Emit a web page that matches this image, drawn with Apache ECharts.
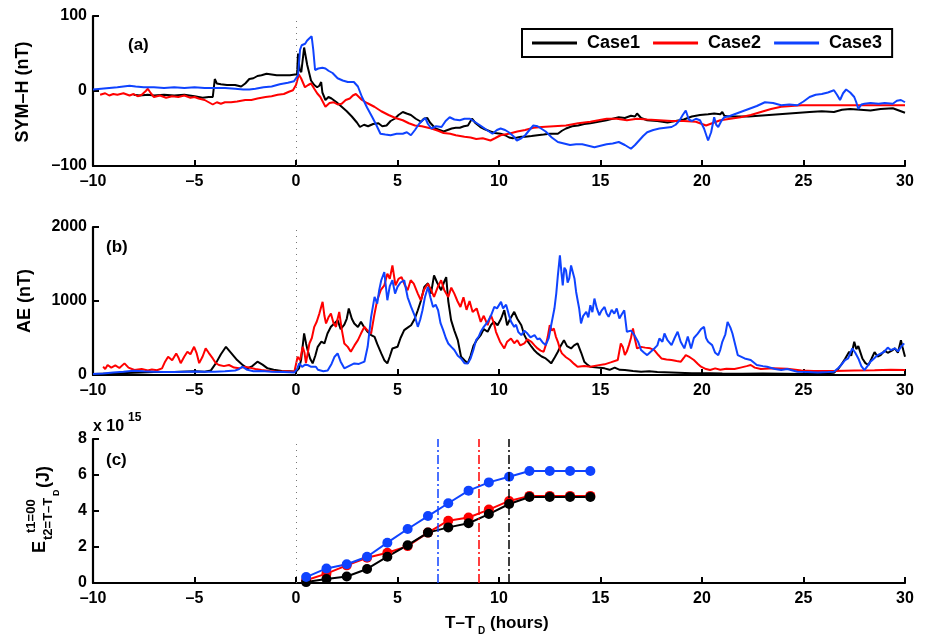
<!DOCTYPE html>
<html>
<head>
<meta charset="utf-8">
<title>SYM-H, AE and energy</title>
<script src="https://cdn.jsdelivr.net/npm/echarts@6/dist/echarts.min.js"></script>
<style>
  html, body { margin: 0; padding: 0; background: #fff; }
  #chart { width: 925px; height: 638px; }
</style>
</head>
<body>
<div id="chart"></div>
<script>
// ---- SYM-H (nT), [hours from T_D, value] ----
const symhCase1 = [[-8.0,-5],[-7.7,-6],[-7.3,-5],[-7.0,-6],[-6.5,-5],[-6.0,-6],[-5.5,-5],[-5.0,-7],[-4.6,-9],[-4.3,-8],[-4.1,-8],[-4.0,16],[-3.9,10],[-3.7,9],[-3.4,8],[-3.0,8],[-2.7,6],[-2.5,10],[-2.3,16],[-2.1,17],[-1.9,20],[-1.7,21],[-1.45,23],[-1.2,22],[-0.95,21],[-0.6,21],[-0.3,21],[-0.05,22],[0.05,22],[0.1,50],[0.18,28],[0.26,25],[0.4,58],[0.55,35],[0.74,14],[0.9,8],[1.04,5],[1.15,7],[1.24,12],[1.3,-2],[1.45,-12],[1.6,-8],[1.75,-10],[2.0,-15],[2.25,-21],[2.5,-27],[2.75,-34],[3.0,-42],[3.15,-48],[3.35,-45],[3.55,-47],[3.8,-44],[4.06,-43],[4.25,-47],[4.46,-46],[4.66,-40],[4.86,-37],[5.05,-32],[5.26,-28],[5.45,-30],[5.66,-32],[5.9,-37],[6.16,-41],[6.3,-37],[6.47,-36],[6.6,-42],[6.87,-50],[7.07,-52],[7.27,-54],[7.47,-52],[7.67,-50],[7.87,-49],[8.07,-49],[8.27,-47],[8.47,-46],[8.6,-40],[8.67,-37],[8.85,-43],[9.08,-48],[9.3,-51],[9.58,-54],[9.8,-56],[10.08,-57],[10.3,-59],[10.5,-62],[10.68,-63],[10.9,-62],[11.1,-61],[11.29,-61],[11.6,-60],[11.89,-59],[12.2,-58],[12.5,-57],[12.9,-57],[13.1,-53],[13.3,-50],[13.6,-47],[13.9,-46],[14.2,-44],[14.5,-43],[14.9,-41],[15.3,-39],[15.6,-37],[15.9,-35],[16.2,-36],[16.5,-33],[16.7,-34],[16.8,-30],[17.0,-36],[17.3,-39],[17.8,-40],[18.3,-42],[18.7,-40],[19.1,-38],[19.5,-34],[19.9,-32],[20.3,-31],[20.6,-30],[20.9,-31],[21.0,-28],[21.1,-33],[21.3,-34],[21.8,-34],[22.3,-34],[22.8,-33],[23.3,-32],[23.8,-31],[24.3,-30],[24.8,-29],[25.3,-28],[25.9,-27],[26.5,-28],[26.9,-25],[27.3,-24],[27.8,-25],[28.3,-26],[28.8,-24],[29.4,-23],[29.7,-26],[30,-29]];

const symhCase2 = [[-9.65,-5],[-9.4,-3],[-9.2,-6],[-9.0,-4],[-8.8,-5],[-8.5,-3],[-8.2,-6],[-8.0,-4],[-7.8,-7],[-7.6,-5],[-7.4,0],[-7.3,3],[-7.15,-3],[-7.0,-8],[-6.7,-6],[-6.4,-9],[-6.1,-7],[-5.8,-8],[-5.5,-6],[-5.2,-9],[-5.0,-8],[-4.8,-10],[-4.5,-12],[-4.3,-15],[-4.1,-18],[-3.9,-15],[-3.7,-17],[-3.5,-15],[-3.2,-15],[-2.9,-14],[-2.5,-12],[-2.2,-12],[-1.9,-10],[-1.5,-8],[-1.2,-7],[-0.9,-5],[-0.6,-4],[-0.35,-1],[-0.15,1],[0.0,8],[0.14,22],[0.25,17],[0.44,5],[0.6,8],[0.74,10],[0.9,3],[1.04,-3],[1.2,-8],[1.45,-21],[1.65,-16],[1.85,-15],[2.05,-18],[2.25,-17],[2.45,-12],[2.65,-10],[2.8,-6],[2.95,-4],[3.1,-8],[3.25,-12],[3.5,-16],[3.86,-21],[4.2,-27],[4.56,-32],[4.9,-36],[5.26,-39],[5.56,-43],[5.86,-46],[6.2,-47],[6.67,-50],[7.0,-53],[7.27,-56],[7.6,-57],[7.87,-59],[8.3,-61],[8.6,-62],[8.88,-64],[9.2,-63],[9.58,-66],[9.8,-63],[10.08,-59],[10.48,-57],[10.9,-54],[11.29,-52],[11.7,-49],[12.1,-48],[12.7,-47],[13.3,-46],[13.9,-43],[14.5,-41],[14.9,-39],[15.3,-37],[15.8,-37],[16.3,-39],[16.8,-37],[17.3,-38],[17.9,-39],[18.5,-40],[19.1,-40],[19.7,-41],[20.0,-44],[20.2,-46],[20.5,-43],[20.9,-39],[21.4,-37],[21.9,-35],[22.4,-32],[22.9,-28],[23.4,-24],[23.9,-21],[24.4,-20],[24.9,-19],[26,-19],[27,-19],[28,-19],[29,-19],[30,-19]];

const symhCase3 = [[-10,2],[-9.6,3],[-9.2,4],[-8.8,5],[-8.5,6],[-8.2,7],[-7.9,6],[-7.5,5],[-7.0,5],[-6.5,4],[-6.0,5],[-5.5,4],[-5.0,5],[-4.5,4],[-4.0,4],[-3.5,4],[-3.0,3],[-2.6,2],[-2.3,2],[-2.0,3],[-1.6,5],[-1.2,6],[-0.8,9],[-0.4,11],[-0.1,13],[0.1,21],[0.2,55],[0.28,61],[0.45,63],[0.54,67],[0.65,70],[0.77,73],[0.85,55],[0.94,28],[1.1,30],[1.3,31],[1.45,30],[1.6,27],[1.8,24],[2.05,17],[2.3,14],[2.55,12],[2.85,12],[3.05,6],[3.25,-8],[3.5,-22],[3.76,-35],[3.95,-45],[4.16,-57],[4.4,-58],[4.66,-59],[4.96,-57],[5.26,-57],[5.46,-55],[5.66,-59],[5.86,-52],[6.06,-44],[6.2,-40],[6.37,-36],[6.5,-44],[6.67,-50],[6.9,-47],[7.17,-48],[7.37,-40],[7.57,-35],[7.8,-38],[8.07,-39],[8.3,-37],[8.57,-37],[8.8,-41],[9.08,-46],[9.4,-52],[9.68,-57],[9.9,-52],[10.08,-50],[10.3,-52],[10.48,-55],[10.7,-60],[10.88,-66],[11.1,-63],[11.29,-59],[11.5,-52],[11.69,-46],[11.9,-47],[12.3,-54],[12.6,-62],[12.9,-68],[13.2,-70],[13.5,-72],[13.8,-71],[14.1,-71],[14.4,-73],[14.7,-75],[15.0,-73],[15.3,-71],[15.6,-70],[15.9,-68],[16.2,-72],[16.5,-77],[16.7,-72],[16.9,-66],[17.1,-60],[17.3,-55],[17.6,-52],[17.9,-50],[18.2,-49],[18.5,-48],[18.7,-45],[18.9,-39],[19.05,-32],[19.2,-26],[19.35,-38],[19.5,-40],[19.7,-37],[19.9,-39],[20.1,-50],[20.3,-66],[20.45,-55],[20.6,-35],[20.7,-45],[20.8,-48],[20.95,-40],[21.1,-35],[21.4,-33],[21.7,-30],[22.0,-27],[22.3,-24],[22.7,-20],[23.1,-15],[23.5,-16],[23.9,-19],[24.3,-18],[24.7,-19],[25.0,-14],[25.3,-8],[25.6,-5],[25.9,-4],[26.2,-2],[26.5,1],[26.65,-5],[26.8,-12],[26.95,-3],[27.1,2],[27.3,-2],[27.5,-8],[27.6,-15],[27.7,-24],[27.85,-18],[28.0,-17],[28.3,-16],[28.7,-17],[29.0,-16],[29.4,-17],[29.6,-13],[29.8,-12],[30,-15]];

// ---- AE (nT), [hours from T_D, value] ----
const aeCase1 = [[-10,15],[-9,20],[-8,30],[-7,40],[-6,40],[-5,50],[-4.5,45],[-4.2,60],[-3.95,157],[-3.7,280],[-3.45,381],[-3.2,300],[-2.9,202],[-2.6,130],[-2.4,90],[-2.15,120],[-1.9,180],[-1.65,140],[-1.4,90],[-1.1,70],[-0.7,55],[-0.3,50],[0.0,45],[0.15,90],[0.25,202],[0.4,561],[0.5,420],[0.57,337],[0.7,220],[0.82,157],[0.95,260],[1.07,381],[1.25,450],[1.4,426],[1.55,560],[1.72,651],[1.9,700],[2.05,741],[2.2,620],[2.38,680],[2.5,760],[2.6,898],[2.75,760],[2.87,696],[3.05,650],[3.2,718],[3.35,650],[3.53,584],[3.7,540],[3.87,516],[4.0,420],[4.2,292],[4.35,200],[4.5,157],[4.62,250],[4.75,359],[5.0,381],[5.15,500],[5.33,606],[5.5,640],[5.67,673],[5.85,760],[6.0,875],[6.15,1000],[6.32,1190],[6.5,1240],[6.65,1100],[6.8,1347],[6.95,1250],[7.15,1145],[7.3,1260],[7.4,1324],[7.5,1000],[7.64,741],[7.8,600],[7.97,471],[8.13,247],[8.3,200],[8.46,157],[8.6,260],[8.75,400],[8.9,470],[9.1,539],[9.25,620],[9.44,584],[9.6,673],[9.75,720],[9.93,673],[10.1,760],[10.26,876],[10.4,673],[10.55,760],[10.75,853],[10.9,760],[11.1,673],[11.25,539],[11.4,460],[11.6,382],[11.75,330],[11.9,292],[12.1,250],[12.3,224],[12.45,190],[12.57,157],[12.75,240],[12.9,314],[13.05,400],[13.2,471],[13.35,390],[13.55,359],[13.7,400],[13.87,427],[14.05,300],[14.2,180],[14.35,140],[14.5,112],[14.85,100],[15.2,90],[15.45,70],[15.7,100],[15.95,70],[16.2,67],[16.6,55],[17,45],[17.4,50],[17.8,42],[18.5,35],[19.5,22],[20.4,22],[21,20],[22,18],[23,20],[24,18],[25,15],[26,20],[26.5,30],[26.7,80],[26.85,135],[27.05,220],[27.25,314],[27.35,260],[27.5,449],[27.6,350],[27.7,390],[27.9,224],[28.05,160],[28.2,135],[28.35,220],[28.5,310],[28.65,250],[28.8,269],[29.0,330],[29.15,300],[29.35,330],[29.5,359],[29.65,300],[29.8,471],[29.9,350],[30,247]];

const aeCase2 = [[-9.5,112],[-9.4,80],[-9.28,135],[-9.1,100],[-8.9,130],[-8.7,95],[-8.45,157],[-8.25,100],[-7.96,67],[-7.6,80],[-7.3,60],[-7.1,75],[-6.85,65],[-6.6,90],[-6.45,180],[-6.3,247],[-6.1,200],[-5.9,292],[-5.8,240],[-5.68,160],[-5.5,250],[-5.35,314],[-5.2,280],[-5.02,381],[-4.9,300],[-4.77,160],[-4.6,250],[-4.45,359],[-4.3,300],[-4.1,224],[-3.95,160],[-3.8,135],[-3.55,120],[-3.3,135],[-3.05,100],[-2.8,90],[-2.55,110],[-2.3,100],[-2.0,80],[-1.7,67],[-1.3,55],[-0.9,45],[-0.5,50],[-0.08,45],[0.08,247],[0.2,200],[0.33,381],[0.42,300],[0.49,160],[0.58,300],[0.66,426],[0.78,500],[0.9,651],[1.02,720],[1.15,830],[1.31,988],[1.4,800],[1.48,696],[1.6,780],[1.72,830],[1.85,700],[1.97,651],[2.05,760],[2.13,853],[2.25,620],[2.38,426],[2.55,380],[2.7,314],[2.88,400],[3.05,471],[3.2,560],[3.37,651],[3.53,600],[3.7,561],[3.85,800],[4.0,1010],[4.18,1150],[4.35,1212],[4.5,1369],[4.62,1300],[4.75,1481],[4.9,1212],[5.05,1300],[5.2,1324],[5.35,1220],[5.5,1145],[5.65,1280],[5.8,1234],[6.0,1100],[6.15,1010],[6.3,1150],[6.5,1234],[6.65,1150],[6.8,1055],[7.0,1200],[7.15,1280],[7.3,1150],[7.5,1055],[7.65,1180],[7.8,1100],[7.95,1000],[8.1,920],[8.25,1050],[8.4,880],[8.55,1000],[8.7,850],[8.9,900],[9.1,718],[9.25,800],[9.44,673],[9.6,808],[9.75,700],[9.85,584],[10.05,450],[10.26,359],[10.4,450],[10.59,494],[10.75,430],[10.9,471],[11.05,400],[11.25,427],[11.4,480],[11.6,449],[11.75,400],[11.9,359],[12.05,330],[12.2,314],[12.3,400],[12.4,516],[12.5,673],[12.6,600],[12.7,628],[12.8,520],[12.9,449],[13.0,350],[13.1,292],[13.3,240],[13.5,202],[13.7,150],[13.87,112],[14.2,120],[14.5,112],[14.85,130],[15.2,144],[15.5,170],[15.85,202],[16.0,427],[16.1,380],[16.2,269],[16.3,320],[16.4,404],[16.5,500],[16.6,628],[16.7,480],[16.8,359],[17.0,380],[17.2,370],[17.45,360],[17.65,337],[17.85,270],[18.0,224],[18.25,210],[18.5,202],[18.75,190],[18.96,180],[19.1,230],[19.2,269],[19.4,240],[19.6,202],[19.8,150],[19.95,112],[20.2,80],[20.4,67],[20.65,90],[20.9,70],[21.2,85],[21.6,80],[21.9,100],[22.2,120],[22.4,135],[22.6,100],[22.9,80],[23.5,90],[24.2,85],[24.9,60],[25.5,55],[26.5,54],[27.5,60],[28.5,65],[29.3,70],[30,67]];

const aeCase3 = [[-10,13],[-9.5,20],[-9,35],[-8.5,45],[-8,58],[-7.5,50],[-7,45],[-6.5,40],[-6,42],[-5.5,45],[-5,48],[-4.5,45],[-4,45],[-3.5,50],[-3,60],[-2.8,80],[-2.65,112],[-2.4,70],[-2.1,50],[-1.7,55],[-1.2,45],[-0.6,40],[-0.08,35],[0.05,80],[0.16,157],[0.3,110],[0.45,140],[0.57,135],[0.75,110],[0.98,112],[1.08,70],[1.15,45],[1.35,50],[1.56,60],[1.75,150],[1.9,247],[2.05,292],[2.2,180],[2.38,90],[2.6,120],[2.87,157],[3.1,150],[3.37,180],[3.53,381],[3.7,786],[3.87,1055],[4.0,965],[4.1,1150],[4.2,1280],[4.35,1392],[4.5,1010],[4.62,1200],[4.75,1280],[4.88,1100],[5.0,1190],[5.15,1250],[5.33,1280],[5.5,1050],[5.67,920],[5.85,800],[6.0,651],[6.12,750],[6.23,875],[6.35,1050],[6.5,1190],[6.62,1050],[6.75,920],[6.88,950],[7.0,875],[7.12,700],[7.25,606],[7.38,500],[7.5,426],[7.65,380],[7.8,337],[7.97,260],[8.13,224],[8.3,160],[8.46,157],[8.6,224],[8.75,350],[8.87,471],[9.0,520],[9.1,584],[9.25,650],[9.44,718],[9.6,800],[9.77,920],[9.9,900],[10.1,988],[10.2,900],[10.35,950],[10.5,800],[10.6,718],[10.75,650],[10.84,680],[10.95,580],[11.1,539],[11.25,600],[11.4,560],[11.55,510],[11.75,539],[11.9,480],[12.0,494],[12.15,440],[12.3,404],[12.45,500],[12.57,673],[12.73,898],[12.82,1100],[12.9,1347],[13.0,1616],[13.07,1400],[13.14,1212],[13.22,1450],[13.3,1414],[13.38,1250],[13.46,1302],[13.55,1480],[13.63,1482],[13.72,1300],[13.8,1122],[13.88,1000],[13.95,898],[14.04,696],[14.15,800],[14.3,853],[14.4,780],[14.5,943],[14.6,850],[14.7,1033],[14.82,900],[14.94,808],[15.05,870],[15.2,920],[15.3,830],[15.4,786],[15.55,880],[15.68,830],[15.8,900],[15.93,763],[16.05,820],[16.17,875],[16.3,584],[16.5,600],[16.67,539],[16.85,450],[17.0,337],[17.15,300],[17.3,269],[17.5,320],[17.65,359],[17.8,400],[17.9,494],[18.05,450],[18.15,561],[18.3,470],[18.5,404],[18.65,500],[18.8,584],[18.95,450],[19.13,360],[19.3,520],[19.46,359],[19.6,500],[19.79,560],[19.95,620],[20.1,651],[20.2,500],[20.3,449],[20.5,404],[20.65,300],[20.8,269],[20.9,340],[21.0,449],[21.15,550],[21.26,718],[21.4,640],[21.5,561],[21.6,450],[21.76,269],[22.1,224],[22.4,202],[22.7,135],[23.0,120],[23.2,112],[23.6,80],[23.9,67],[24.2,80],[24.7,45],[25.2,40],[25.7,35],[26.2,40],[26.5,45],[26.7,90],[26.85,135],[27.05,200],[27.2,224],[27.4,359],[27.55,300],[27.7,224],[27.85,120],[28.0,67],[28.15,120],[28.3,180],[28.5,230],[28.65,269],[28.8,290],[28.98,314],[29.15,370],[29.3,337],[29.5,360],[29.65,320],[29.8,380],[29.96,427]];

// ---- Accumulated energy E (units of 1e15 J) ----
const energyHours = [0.5,1.5,2.5,3.5,4.5,5.5,6.5,7.5,8.5,9.5,10.5,11.5,12.5,13.5,14.5];
const energyCase1 = [0.05,0.22,0.36,0.78,1.46,2.1,2.8,3.09,3.32,3.83,4.39,4.78,4.78,4.78,4.78];
const energyCase2 = [0.15,0.52,0.98,1.4,1.68,2.05,2.8,3.46,3.64,4.08,4.56,4.84,4.84,4.84,4.84];
const energyCase3 = [0.33,0.81,1.04,1.46,2.24,3.0,3.72,4.43,5.13,5.59,5.9,6.22,6.22,6.22,6.22];

// End of each case's energy build-up (hours)
const onsetCase1 = 10.5;
const onsetCase2 = 9;
const onsetCase3 = 7;

const caseNames = ['Case1', 'Case2', 'Case3'];
const caseColors = { Case1: '#000000', Case2: '#ff0000', Case3: '#0f43ff' };

const FONT = '"Liberation Sans", Arial, Helvetica, sans-serif';
const dash = v => String(v).replace('-', '\u2013');

function xAxisFor(i) {
  return {
    type: 'value', gridIndex: i, min: -10, max: 30, interval: 5,
    axisLine: { show: true, onZero: false, lineStyle: { color: '#000', width: 2.2 } },
    axisTick: { show: true, inside: true, length: 6, lineStyle: { color: '#000', width: 2 } },
    axisLabel: { color: '#000', fontSize: 16, fontWeight: 'bold', fontFamily: FONT, margin: 8, formatter: dash },
    splitLine: { show: false }
  };
}
function yAxisFor(i, min, max, interval) {
  return {
    type: 'value', gridIndex: i, min, max, interval,
    axisLine: { show: true, onZero: false, lineStyle: { color: '#000', width: 2.2 } },
    axisTick: { show: true, inside: true, length: 6, lineStyle: { color: '#000', width: 2 } },
    axisLabel: { color: '#000', fontSize: 16, fontWeight: 'bold', fontFamily: FONT, margin: 6, formatter: dash },
    splitLine: { show: false }
  };
}

const zeroLine = {
  silent: true, symbol: ['none', 'none'], label: { show: false },
  lineStyle: { color: '#777', type: [1, 5], width: 1 },
  data: [{ xAxis: 0 }]
};

function timeSeries(name, data, panel, withZero) {
  const s = {
    name, type: 'line', data, xAxisIndex: panel, yAxisIndex: panel,
    showSymbol: false, symbol: 'none',
    lineStyle: { color: caseColors[name], width: 2 },
    itemStyle: { color: caseColors[name] }
  };
  if (withZero) s.markLine = zeroLine;
  return s;
}

function energySeries(name, values, onset, withZero) {
  const s = {
    name, type: 'line', xAxisIndex: 2, yAxisIndex: 2,
    data: energyHours.map((h, k) => [h, values[k]]),
    symbol: 'circle', symbolSize: 10, showSymbol: true,
    lineStyle: { color: caseColors[name], width: 2 },
    itemStyle: { color: caseColors[name] },
    markLine: {
      silent: true, symbol: ['none', 'none'], label: { show: false },
      lineStyle: { color: caseColors[name], type: [9, 3, 2, 3], width: 1.5 },
      data: [{ xAxis: onset }]
    }
  };
  if (withZero) s.markLine.data.push({ xAxis: 0, lineStyle: { color: '#777', type: [1, 5], width: 1 } });
  return s;
}

const txt = (x, y, text, size) => ({
  type: 'text', x, y, silent: true,
  style: { text, fontSize: size, fontWeight: 'bold', fontFamily: FONT, fill: '#000',
    align: 'left', verticalAlign: 'middle' }
});
const vtxt = (x, y, text, size) => {
  const t = txt(x, y, text, size);
  t.rotation = Math.PI / 2;
  return t;
};

const chart = echarts.init(document.getElementById('chart'), null, { renderer: 'canvas' });
chart.setOption({
  animation: false,
  backgroundColor: '#fff',
  grid: [
    { left: 93, right: 20, top: 16, height: 150 },
    { left: 93, right: 20, top: 227, height: 148 },
    { left: 93, right: 20, top: 439, height: 144 }
  ],
  xAxis: [xAxisFor(0), xAxisFor(1), xAxisFor(2)],
  yAxis: [yAxisFor(0, -100, 100, 100), yAxisFor(1, 0, 2000, 1000), yAxisFor(2, 0, 8, 2)],
  legend: {
    data: caseNames, left: 522, top: 29,
    padding: [5, 10, 5, 10], itemGap: 13, itemWidth: 45, itemHeight: 3, icon: 'rect',
    borderColor: '#000', borderWidth: 2, backgroundColor: '#fff',
    textStyle: { color: '#000', fontSize: 18, fontWeight: 'bold', fontFamily: FONT, padding: [0, 0, 0, 5] }
  },
  series: [
    timeSeries('Case1', symhCase1, 0, true),
    timeSeries('Case2', symhCase2, 0, false),
    timeSeries('Case3', symhCase3, 0, false),
    timeSeries('Case1', aeCase1, 1, true),
    timeSeries('Case2', aeCase2, 1, false),
    timeSeries('Case3', aeCase3, 1, false),
    energySeries('Case2', energyCase2, onsetCase2, true),
    energySeries('Case1', energyCase1, onsetCase1, false),
    energySeries('Case3', energyCase3, onsetCase3, false)
  ],
  graphic: [
    txt(128, 45, '(a)', 17),
    txt(106, 247, '(b)', 17),
    txt(106, 460, '(c)', 17),
    { type: 'text', x: 23, y: 92, rotation: Math.PI / 2, silent: true,
      style: { text: 'SYM\u2013H (nT)', fontSize: 18, fontWeight: 'bold', fontFamily: FONT, fill: '#000', align: 'center', verticalAlign: 'middle' } },
    { type: 'text', x: 25, y: 301, rotation: Math.PI / 2, silent: true,
      style: { text: 'AE (nT)', fontSize: 18, fontWeight: 'bold', fontFamily: FONT, fill: '#000', align: 'center', verticalAlign: 'middle' } },
    // E with super/subscript, read bottom to top
    vtxt(40, 553, 'E', 18),
    vtxt(31.5, 533, 't1=00', 13),
    vtxt(48, 540, 't2=T\u2013T', 13),
    vtxt(57, 496, 'D', 9),
    vtxt(44, 488, '(J)', 18),
    // scale factor for panel (c)
    txt(93, 427, 'x 10', 16),
    txt(128, 418, '15', 12),
    // x-axis title
    txt(445, 623, 'T\u2013T', 17),
    txt(478, 631, 'D', 10),
    txt(490, 623, '(hours)', 17)
  ]
});
</script>
</body>
</html>
